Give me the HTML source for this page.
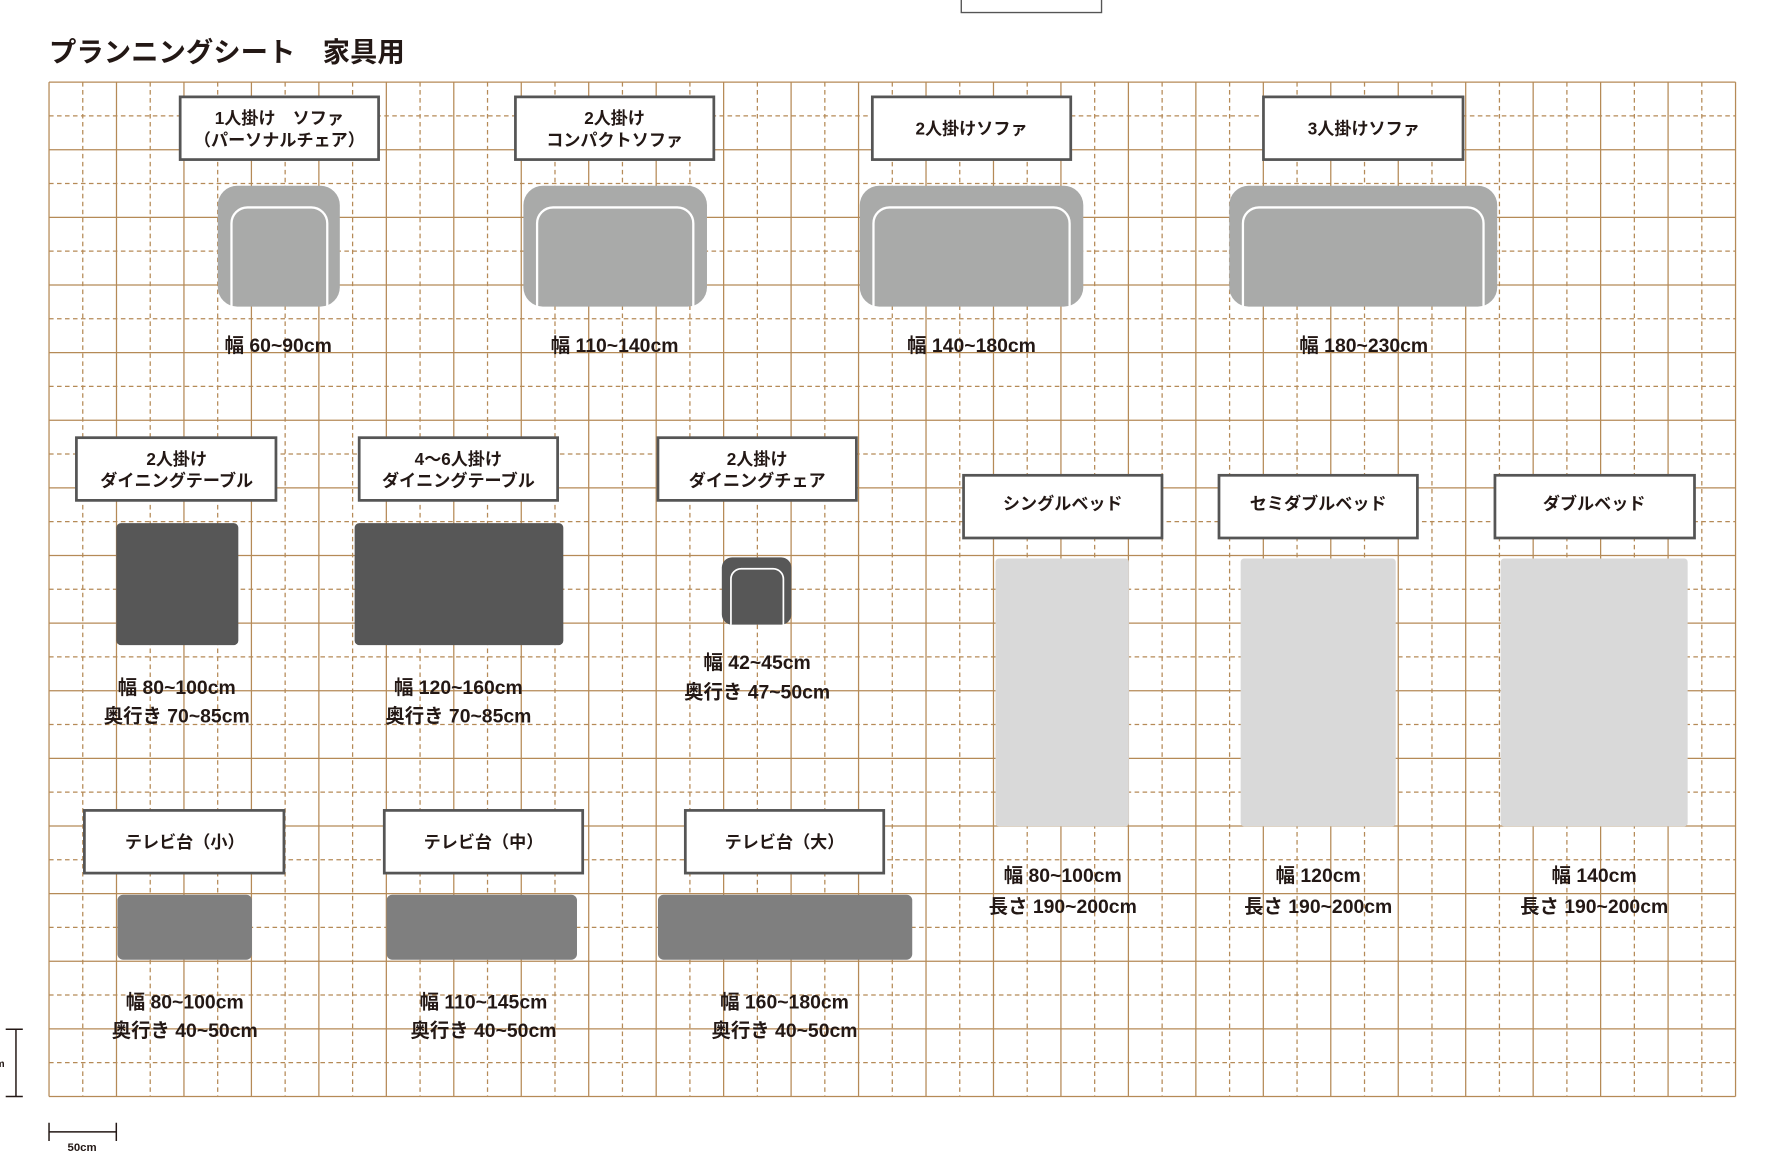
<!DOCTYPE html>
<html><head><meta charset="utf-8"><style>
html,body{margin:0;padding:0;background:#fff;}
svg{display:block;}
text{font-family:"Liberation Sans","Noto Sans CJK JP",sans-serif;font-weight:bold;fill:#231815;}
</style></head><body>
<svg width="1788" height="1174" viewBox="0 0 1568 1030" preserveAspectRatio="none" xmlns="http://www.w3.org/2000/svg">
<rect x="843" y="-2" width="123" height="13" fill="#fff" stroke="#555" stroke-width="1.2"/>
<text x="43" y="54" font-size="24">プランニングシート　家具用</text>
<g id="grid" stroke="#b58a57" stroke-width="1.1" fill="none"></g>
<g font-size="15" text-anchor="middle">
<g fill="#fff" stroke="#555" stroke-width="2.4">
<rect x="158" y="85" width="174" height="55"/><rect x="452" y="85" width="174" height="55"/>
<rect x="765" y="85" width="174" height="55"/><rect x="1108" y="85" width="175" height="55"/>
<rect x="67" y="384" width="175" height="55"/><rect x="315" y="384" width="174" height="55"/>
<rect x="577" y="384" width="174" height="55"/>
<rect x="845" y="417" width="174" height="55"/><rect x="1069" y="417" width="174" height="55"/>
<rect x="1311" y="417" width="175" height="55"/>
<rect x="74" y="711" width="175" height="55"/><rect x="337" y="711" width="174" height="55"/>
<rect x="601" y="711" width="174" height="55"/>
</g>
<text x="245" y="109">1人掛け　ソファ</text><text x="245" y="128">（パーソナルチェア）</text>
<text x="539" y="109">2人掛け</text><text x="539" y="128">コンパクトソファ</text>
<text x="852" y="118">2人掛けソファ</text>
<text x="1196" y="118">3人掛けソファ</text>
<text x="155" y="408">2人掛け</text><text x="155" y="427">ダイニングテーブル</text>
<text x="402" y="408">4～6人掛け</text><text x="402" y="427">ダイニングテーブル</text>
<text x="664" y="408">2人掛け</text><text x="664" y="427">ダイニングチェア</text>
<text x="932" y="447">シングルベッド</text>
<text x="1156" y="447">セミダブルベッド</text>
<text x="1398" y="447">ダブルベッド</text>
<text x="162" y="744">テレビ台（小）</text>
<text x="424" y="744">テレビ台（中）</text>
<text x="688" y="744">テレビ台（大）</text>
</g>
<g fill="#a9aaa9">
<rect x="191" y="163" width="107" height="106" rx="17"/>
<rect x="459" y="163" width="161" height="106" rx="17"/>
<rect x="754" y="163" width="196" height="106" rx="17"/>
<rect x="1078" y="163" width="235" height="106" rx="17"/>
</g>
<rect x="633" y="489" width="61" height="59" rx="9" fill="#575757"/>
<g fill="none" stroke="#fff" stroke-width="2">
<path d="M203 269V196a14 14 0 0 1 14-14H273a14 14 0 0 1 14 14V269"/>
<path d="M471 269V196a14 14 0 0 1 14-14H594a14 14 0 0 1 14 14V269"/>
<path d="M766 269V196a14 14 0 0 1 14-14H924a14 14 0 0 1 14 14V269"/>
<path d="M1090 269V196a14 14 0 0 1 14-14H1287a14 14 0 0 1 14 14V269"/>
<path d="M641 548V508a9 9 0 0 1 9-9H678a9 9 0 0 1 9 9V548" stroke-width="1.5"/>
</g>
<g fill="#575757">
<rect x="102" y="459" width="107" height="107" rx="4"/>
<rect x="311" y="459" width="183" height="107" rx="4"/>
</g>
<g fill="#d9d9d9">
<rect x="873" y="490" width="117" height="235" rx="3"/>
<rect x="1088" y="490" width="136" height="235" rx="3"/>
<rect x="1316" y="490" width="164" height="235" rx="3"/>
</g>
<g fill="#7f7f7f">
<rect x="103" y="785" width="118" height="57" rx="5"/>
<rect x="339" y="785" width="167" height="57" rx="5"/>
<rect x="577" y="785" width="223" height="57" rx="5"/>
</g>
<g font-size="17" text-anchor="middle">
<text x="244" y="309">幅 60~90cm</text>
<text x="539" y="309">幅 110~140cm</text>
<text x="852" y="309">幅 140~180cm</text>
<text x="1196" y="309">幅 180~230cm</text>
<text x="155" y="609">幅 80~100cm</text><text x="155" y="634">奥行き 70~85cm</text>
<text x="402" y="609">幅 120~160cm</text><text x="402" y="634">奥行き 70~85cm</text>
<text x="664" y="587">幅 42~45cm</text><text x="664" y="613">奥行き 47~50cm</text>
<text x="932" y="774">幅 80~100cm</text><text x="932" y="801">長さ 190~200cm</text>
<text x="1156" y="774">幅 120cm</text><text x="1156" y="801">長さ 190~200cm</text>
<text x="1398" y="774">幅 140cm</text><text x="1398" y="801">長さ 190~200cm</text>
<text x="162" y="885">幅 80~100cm</text><text x="162" y="910">奥行き 40~50cm</text>
<text x="424" y="885">幅 110~145cm</text><text x="424" y="910">奥行き 40~50cm</text>
<text x="688" y="885">幅 160~180cm</text><text x="688" y="910">奥行き 40~50cm</text>
</g>
<g stroke="#231815" stroke-width="1.3" fill="none">
<path d="M14 903V962M5 903H20M5 962H20"/>
<path d="M43 993H102M43 985V1001M102 985V1001"/>
</g>
<text x="-4" y="936" font-size="9">m</text>
<text x="72" y="1010" font-size="10" text-anchor="middle">50cm</text>
</svg>
<script>
(function(){
var ns="http://www.w3.org/2000/svg",g=document.getElementById("grid");
var x0=43,x1=1522,y0=72,y1=962,nc=50,nr=30;
var px=(x1-x0)/nc,py=(y1-y0)/nr;
for(var i=0;i<=nc;i++){var l=document.createElementNS(ns,"line");var x=x0+i*px;
l.setAttribute("x1",x);l.setAttribute("x2",x);l.setAttribute("y1",y0);l.setAttribute("y2",y1);
if(i%2)l.setAttribute("stroke-dasharray","4 3");g.appendChild(l);}
for(var j=0;j<=nr;j++){var l=document.createElementNS(ns,"line");var y=y0+j*py;
l.setAttribute("y1",y);l.setAttribute("y2",y);l.setAttribute("x1",x0);l.setAttribute("x2",x1);
if(j%2)l.setAttribute("stroke-dasharray","4 3");g.appendChild(l);}
})();
</script>
</body></html>
